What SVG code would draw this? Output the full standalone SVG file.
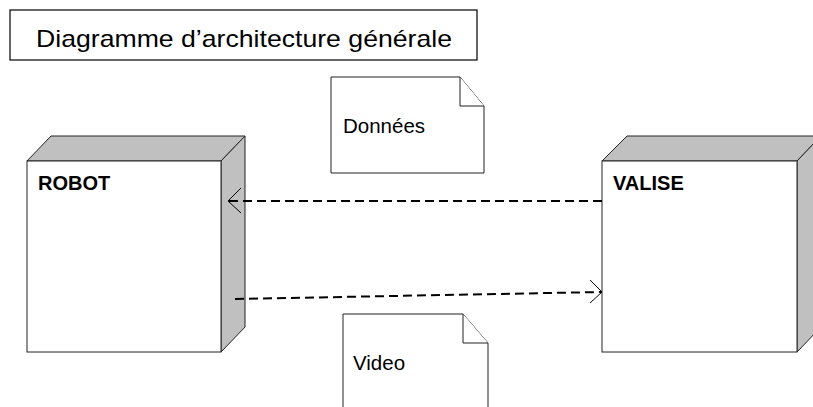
<svg xmlns="http://www.w3.org/2000/svg" width="813" height="407" viewBox="0 0 813 407">
<style>
.frame{fill:#fff;stroke:#000;stroke-width:1.2}
.face{fill:#fff;stroke:#222;stroke-width:1}
.side{fill:#c0c0c0;stroke:#222;stroke-width:1}
.note{fill:#fff;stroke:#222;stroke-width:1}
.title{font-family:"Liberation Sans",Arial,sans-serif;font-size:24px;fill:#000}
.nodelabel{font-family:"Liberation Sans",Arial,sans-serif;font-size:20px;font-weight:bold;fill:#000}
.notelabel{font-family:"Liberation Sans",Arial,sans-serif;font-size:20.5px;fill:#000}
.dash{fill:none;stroke:#000;stroke-width:2;stroke-dasharray:9 5}
.head{fill:none;stroke:#000;stroke-width:1}
</style>
<rect width="813" height="407" fill="#fff"/>
<g id="title">
<rect class="frame" x="10" y="10" width="467" height="50"/>
<text class="title" x="36" y="47" textLength="416" lengthAdjust="spacingAndGlyphs">Diagramme d’architecture générale</text>
</g>
<g id="robot">
<polygon class="side" points="27,161 51,136 245,136 221,161"/>
<polygon class="side" points="221,161 245,136 245,327 221,352"/>
<rect class="face" x="27" y="161" width="194" height="191"/>
<text class="nodelabel" x="38" y="190">ROBOT</text>
</g>
<g id="valise">
<polygon class="side" points="602,161 627,136 821,136 797,161"/>
<polygon class="side" points="797,161 821,136 821,327 797,352"/>
<rect class="face" x="602" y="161" width="195" height="191"/>
<text class="nodelabel" x="613" y="190">VALISE</text>
</g>
<g id="donnees">
<polygon class="note" points="331,77 460,77 484,106 484,173 331,173"/>
<polyline class="note" points="460,77 460,106 484,106"/>
<text class="notelabel" x="343" y="133">Données</text>
</g>
<g id="video">
<polygon class="note" points="343,314 463,314 488,343 488,420 343,420"/>
<polyline class="note" points="463,314 463,343 488,343"/>
<text class="notelabel" x="353" y="370">Video</text>
</g>
<g id="connectors">
<line class="dash" x1="602" y1="201" x2="228" y2="201"/>
<polyline class="head" points="241,188 228,201 241,213"/>
<line class="dash" x1="235" y1="299" x2="601" y2="292"/>
<polyline class="head" points="590,280 602,292 590,303"/>
</g>
</svg>
